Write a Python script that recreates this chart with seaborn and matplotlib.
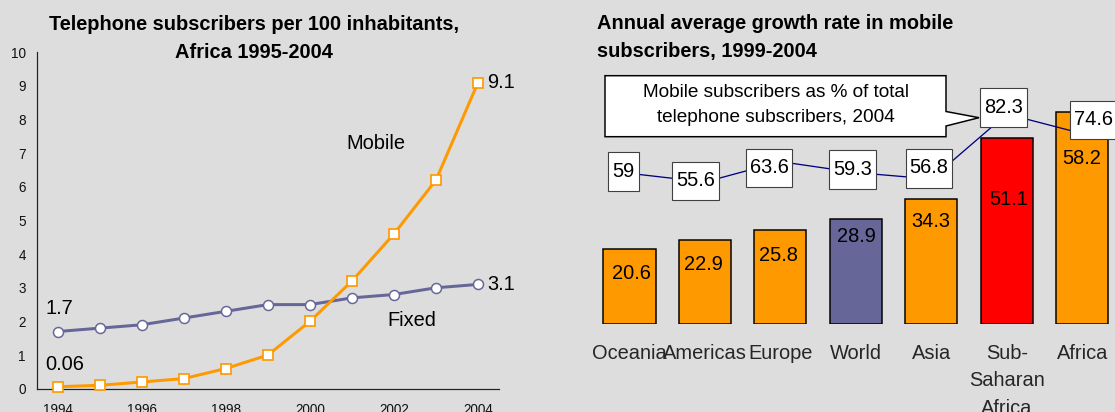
import numpy as np
import pandas as pd
import matplotlib
matplotlib.use("Agg")
import matplotlib.pyplot as plt
import matplotlib.patches as mpatches
import matplotlib.transforms as mtransforms
from matplotlib.ticker import FixedLocator
import seaborn as sns

# ---- data -------------------------------------------------------------
years = [1994, 1995, 1996, 1997, 1998, 1999, 2000, 2001, 2002, 2003, 2004]
mobile = [0.06, 0.1, 0.2, 0.3, 0.6, 1.0, 2.0, 3.2, 4.6, 6.2, 9.1]
fixed = [1.7, 1.8, 1.9, 2.1, 2.3, 2.5, 2.5, 2.7, 2.8, 3.0, 3.1]

regions = ["Oceania", "Americas", "Europe", "World", "Asia",
           "Sub-\nSaharan\nAfrica", "Africa"]
growth = [20.6, 22.9, 25.8, 28.9, 34.3, 51.1, 58.2]
mobile_share = [59, 55.6, 63.6, 59.3, 56.8, 82.3, 74.6]

# ---- styling ----------------------------------------------------------
BG = "#DDDDDD"
ORANGE = "#FF9900"
PURPLE = "#666699"
RED = "#FF0000"
NAVY = "#000080"
bar_colors = [ORANGE, ORANGE, ORANGE, PURPLE, ORANGE, RED, ORANGE]

# label placement (pixels)
bar_label_drop = [15.6, 15.3, 16.6, 9.3, 14.3, 52.7, 37.6]
bar_label_dx = [1.5, -1.4, -1.7, 0.7, -0.2, 2.0, -0.5]
share_box_dx = [-6, -9.5, -11.5, -3, -2.3, -3, 11.5]
share_box_dy = [1.7, 1.2, -6.6, 3, 10.5, 6.3, 13.6]

sns.set_style("white")
plt.rcParams["font.family"] = ["Liberation Sans", "DejaVu Sans"]
plt.rcParams["text.color"] = "#000000"

DPI = 72
W, H = 1115, 412
fig = plt.figure(figsize=(W / DPI, H / DPI), dpi=DPI, facecolor=BG)
PIX = mtransforms.IdentityTransform()


def rect_from_pixels(x0, y_top, x1, y_bot):
    return [x0 / W, 1 - y_bot / H, (x1 - x0) / W, (y_bot - y_top) / H]


# ---- left: subscribers per 100 inhabitants -----------------------------
ax1 = fig.add_axes(rect_from_pixels(36.7, 52.3, 499, 388.7))
ax1.set_facecolor(BG)
df_lines = pd.DataFrame({"year": years, "Mobile": mobile, "Fixed": fixed})

sns.lineplot(data=df_lines, x="year", y="Fixed", ax=ax1, color=PURPLE,
             lw=3, marker="o", markersize=10, markerfacecolor="white",
             markeredgecolor=PURPLE, markeredgewidth=1.5, clip_on=False,
             zorder=3)
sns.lineplot(data=df_lines, x="year", y="Mobile", ax=ax1, color=ORANGE,
             lw=3, marker="s", markersize=10.5, markerfacecolor="white",
             markeredgecolor=ORANGE, markeredgewidth=1.7, clip_on=False,
             zorder=4)

ax1.set_xlim(years[0] - 0.5, years[-1] + 0.5)
ax1.set_ylim(0, 10)
ax1.set_xticks(years[::2])
ax1.set_xticklabels([str(y) for y in years[::2]])
ax1.xaxis.set_minor_locator(FixedLocator(np.arange(years[0] - 0.5, years[-1] + 1, 1)))
ax1.tick_params(axis="x", which="major", length=0, pad=14, labelsize=13.5,
                labelcolor="#111111")
ax1.tick_params(axis="x", which="minor", length=5, width=1.2,
                direction="out", color="#222222")
ax1.set_yticks(range(0, 11))
ax1.tick_params(axis="y", length=5, width=1.2, direction="out", pad=6,
                labelsize=13.5, color="#222222", labelcolor="#111111")
ax1.set_xlabel("")
ax1.set_ylabel("")
sns.despine(ax=ax1)
for s in ("left", "bottom"):
    ax1.spines[s].set_linewidth(1.2)
    ax1.spines[s].set_color("#222222")

ax1.annotate(f"{fixed[0]:g}", (years[0], fixed[0]), xytext=(-12.3, 17.5),
             textcoords="offset points", ha="left", va="baseline", fontsize=20)
ax1.annotate(f"{mobile[0]:g}", (years[0], mobile[0]), xytext=(-12.3, 16.7),
             textcoords="offset points", ha="left", va="baseline", fontsize=20)
ax1.annotate(f"{mobile[-1]:g}", (years[-1], mobile[-1]), xytext=(9, -5.7),
             textcoords="offset points", ha="left", va="baseline", fontsize=20)
ax1.annotate(f"{fixed[-1]:g}", (years[-1], fixed[-1]), xytext=(9, -5.7),
             textcoords="offset points", ha="left", va="baseline", fontsize=20)
ax1.text(2000.88, 7.125, "Mobile", fontsize=20, ha="left", va="baseline")
ax1.text(2001.84, 1.864, "Fixed", fontsize=20, ha="left", va="baseline")

# multi-line texts are anchored on the baseline of their last line
fig.text(254, H - 58.3, "Telephone subscribers per 100 inhabitants,\nAfrica 1995-2004",
         transform=PIX, ha="center", va="baseline", multialignment="center",
         fontsize=20, fontweight="bold", linespacing=1.6)

# ---- right: growth rate bars with share line ---------------------------
ax2 = fig.add_axes(rect_from_pixels(591.8, 68.9, 1120, 323.7))
ax2.set_facecolor(BG)
df_bars = pd.DataFrame({"region": regions, "growth": growth})
sns.barplot(data=df_bars, x="region", y="growth", hue="region",
            palette=dict(zip(regions, bar_colors)), legend=False, width=0.69,
            edgecolor="black", linewidth=1.5, saturation=1, ax=ax2)
ax2.set_ylim(0, 70)

for i, v in enumerate(growth):
    ax2.annotate(f"{v:.1f}", (i, v), xytext=(bar_label_dx[i], -(bar_label_drop[i] + 14.3)),
                 textcoords="offset points", ha="center", va="baseline",
                 fontsize=20)

ax3 = ax2.twinx()
sns.lineplot(x=np.arange(len(regions)), y=mobile_share, ax=ax3, color=NAVY,
             lw=1.3)
ax3.set_ylim(0, 100)
ax3.axis("off")

ax2.set_xlim(-0.5, len(regions) - 0.5)
ax2.set_xticks(range(len(regions)))
ax2.set_xticklabels(regions, linespacing=1.57)
ax2.tick_params(axis="x", length=0, pad=20, labelsize=20)
ax2.set_xlabel("")
ax2.set_ylabel("")
ax2.yaxis.set_visible(False)
for s in ax2.spines.values():
    s.set_visible(False)

# share labels in white boxes
fig.canvas.draw()
renderer = fig.canvas.get_renderer()
for i, v in enumerate(mobile_share):
    px, py = ax3.transData.transform((i, v))
    cx, cy = px + share_box_dx[i], py + share_box_dy[i]
    t = fig.text(cx, cy - 5, f"{v:g}", transform=PIX, ha="center",
                 va="baseline", fontsize=20, zorder=7)
    w = t.get_window_extent(renderer).width + 8
    fig.add_artist(mpatches.Rectangle((cx - w / 2, cy - 19.25), w, 38.5,
                                      transform=PIX, facecolor="white",
                                      edgecolor="#404040", lw=1.1, zorder=6))

# callout describing the line
callout_pts = [(605, 75.7), (946, 75.7), (946, 111.5), (979, 117.7),
               (946, 126), (946, 136.7), (605, 136.7)]
fig.add_artist(mpatches.Polygon([(x, H - y) for x, y in callout_pts], closed=True,
                                transform=PIX, facecolor="white",
                                edgecolor="black", lw=1.5, zorder=5))
fig.text(776, H - 121.7, "Mobile subscribers as % of total\ntelephone subscribers, 2004",
         transform=PIX, ha="center", va="baseline", multialignment="center",
         fontsize=19, linespacing=1.62, zorder=6)

fig.text(597, H - 56.7, "Annual average growth rate in mobile\nsubscribers, 1999-2004",
         transform=PIX, ha="left", va="baseline", multialignment="left",
         fontsize=20, fontweight="bold", linespacing=1.6)

fig.savefig("out.png", dpi=DPI, facecolor=BG)
